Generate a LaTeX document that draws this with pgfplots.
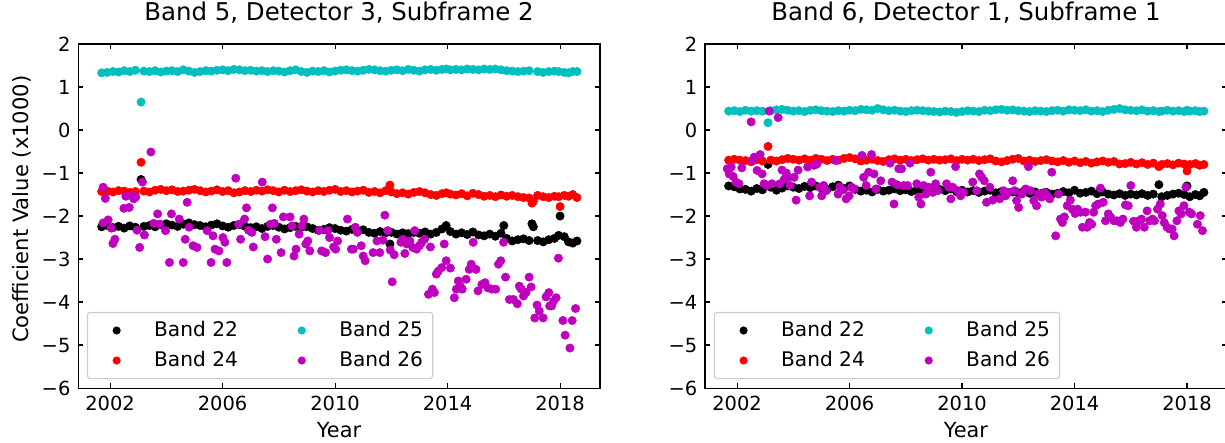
\documentclass[border=0pt]{standalone}
\usepackage{fontspec}
\setmainfont{DejaVu Sans}
\usepackage{pgfplots}
\usepackage{pgfplotstable}
\pgfplotsset{compat=1.18}
\definecolor{mplc}{rgb}{0,0.75,0.75}
\definecolor{mplm}{rgb}{0.75,0,0.75}
\definecolor{legframe}{rgb}{0.8,0.8,0.8}

\pgfplotstableread{
x a b c
2001.7 -2.25 -1.43 1.33
2001.9 -2.22 -1.42 1.34
2002.1 -2.27 -1.44 1.36
2002.3 -2.24 -1.41 1.35
2002.5 -2.28 -1.42 1.38
2002.7 -2.23 -1.45 1.36
2002.9 -2.26 -1.43 1.39
2003.1 -1.15 -0.75 0.65
2003.2 -2.24 -1.42 1.37
2003.4 -2.22 -1.44 1.36
2003.6 -2.25 -1.40 1.38
2003.8 -2.20 -1.38 1.35
2004.0 -2.18 -1.41 1.37
2004.2 -2.21 -1.39 1.38
2004.4 -2.24 -1.43 1.36
2004.6 -2.19 -1.42 1.40
2004.8 -2.16 -1.40 1.37
2005.0 -2.20 -1.38 1.34
2005.2 -2.22 -1.41 1.36
2005.4 -2.25 -1.44 1.38
2005.6 -2.21 -1.42 1.37
2005.8 -2.18 -1.39 1.39
2006.0 -2.23 -1.43 1.40
2006.2 -2.26 -1.41 1.38
2006.4 -2.22 -1.46 1.41
2006.6 -2.20 -1.44 1.40
2006.8 -2.24 -1.41 1.38
2007.0 -2.27 -1.43 1.39
2007.2 -2.25 -1.40 1.37
2007.4 -2.29 -1.42 1.38
2007.6 -2.24 -1.39 1.36
2007.8 -2.22 -1.41 1.38
2008.0 -2.26 -1.44 1.37
2008.2 -2.30 -1.40 1.35
2008.4 -2.27 -1.43 1.38
2008.6 -2.24 -1.41 1.40
2008.8 -2.26 -1.39 1.36
2009.0 -2.25 -1.42 1.34
2009.2 -2.29 -1.44 1.37
2009.4 -2.33 -1.41 1.36
2009.6 -2.31 -1.43 1.38
2009.8 -2.27 -1.40 1.35
2010.0 -2.29 -1.38 1.37
2010.2 -2.33 -1.43 1.39
2010.4 -2.35 -1.41 1.40
2010.6 -2.31 -1.44 1.38
2010.8 -2.34 -1.42 1.37
2011.0 -2.32 -1.40 1.39
2011.2 -2.38 -1.45 1.41
2011.4 -2.40 -1.43 1.40
2011.6 -2.36 -1.46 1.38
2011.8 -2.39 -1.41 1.37
2011.95 -2.65 -1.28 nan
2012.0 -2.38 -1.44 1.39
2012.2 -2.42 -1.48 1.40
2012.4 -2.39 -1.46 1.38
2012.6 -2.41 -1.49 1.41
2012.8 -2.38 -1.45 1.39
2013.0 -2.40 -1.43 1.37
2013.2 -2.37 -1.46 1.40
2013.4 -2.42 -1.50 1.41
2013.6 -2.38 -1.52 1.39
2013.8 -2.30 -1.48 1.41
2013.95 -2.22 -1.46 1.42
2014.1 -2.36 -1.49 1.40
2014.3 -2.42 -1.51 1.41
2014.5 -2.39 -1.48 1.40
2014.7 -2.43 -1.53 1.42
2014.9 -2.37 -1.47 1.41
2015.1 -2.44 -1.50 1.40
2015.3 -2.46 -1.54 1.42
2015.5 -2.42 -1.52 1.41
2015.7 -2.47 -1.55 1.42
2015.9 -2.40 -1.51 1.40
2016.0 -2.22 nan nan
2016.1 -2.52 -1.54 1.38
2016.3 -2.58 -1.52 1.37
2016.5 -2.55 -1.55 1.36
2016.7 -2.53 -1.57 1.37
2016.9 -2.57 -1.58 1.38
2017.0 -2.18 -1.70 nan
2017.05 -2.25 -1.66 nan
2017.2 -2.57 -1.52 1.36
2017.4 -2.60 -1.55 1.34
2017.6 -2.55 -1.57 1.36
2017.8 -2.52 -1.54 1.37
2017.95 -2.45 -1.55 1.36
2018.0 -2.00 -1.78 nan
2018.15 -2.48 -1.52 1.34
2018.3 -2.60 -1.54 1.33
2018.45 -2.63 -1.50 1.36
2018.6 -2.58 -1.57 1.36
}\leftdense

\pgfplotstableread{
x y
2001.75 -2.16
2001.75 -1.33
2001.83 -1.59
2001.93 -2.09
2002.04 -2.28
2002.10 -2.64
2002.17 -2.54
2002.49 -1.82
2002.56 -1.54
2002.68 -1.80
2002.77 -1.53
2002.84 -1.60
2002.91 -1.56
2002.96 -2.33
2003.05 -2.73
2003.15 -1.21
2003.22 -2.44
2003.45 -0.51
2003.55 -2.17
2003.69 -1.95
2003.76 -2.19
2003.97 -2.34
2004.11 -3.08
2004.18 -1.95
2004.46 -2.07
2004.60 -3.08
2004.67 -2.54
2004.74 -1.68
2004.81 -2.26
2004.95 -2.69
2005.09 -2.73
2005.45 -2.34
2005.59 -3.08
2005.66 -2.46
2005.73 -2.77
2005.87 -2.81
2006.01 -2.50
2006.08 -2.61
2006.15 -3.08
2006.47 -1.12
2006.57 -2.19
2006.64 -2.54
2006.78 -2.07
2006.85 -1.81
2006.92 -2.33
2007.04 -2.38
2007.09 -2.72
2007.41 -1.21
2007.51 -2.48
2007.60 -3.00
2007.70 -2.19
2007.77 -1.81
2007.84 -2.17
2007.91 -2.54
2008.08 -2.85
2008.16 -2.02
2008.40 -2.02
2008.47 -2.23
2008.54 -2.93
2008.61 -2.77
2008.72 -2.42
2008.82 -2.23
2008.89 -2.07
2008.96 -2.65
2009.03 -2.58
2009.10 -2.81
2009.45 -2.33
2009.52 -2.81
2009.66 -2.85
2009.74 -2.34
2009.80 -2.50
2009.95 -2.72
2010.02 -2.77
2010.09 -2.58
2010.44 -2.07
2010.58 -2.77
2010.65 -2.77
2010.72 -2.26
2010.79 -2.38
2010.93 -2.69
2011.00 -2.93
2011.07 -3.04
2011.35 -2.85
2011.49 -2.58
2011.59 -2.85
2011.70 -2.56
2011.77 -1.98
2011.87 -2.34
2011.96 -2.79
2012.03 -3.53
2012.10 -2.90
2012.34 -2.61
2012.41 -2.54
2012.48 -2.87
2012.55 -2.65
2012.66 -2.58
2012.76 -2.73
2012.83 -2.34
2012.90 -2.77
2013.00 -2.69
2013.08 -2.61
2013.18 -2.54
2013.32 -3.82
2013.39 -2.72
2013.46 -3.70
2013.53 -3.78
2013.60 -3.35
2013.67 -3.28
2013.79 -3.20
2013.88 -2.65
2013.95 -3.04
2014.10 -3.21
2014.24 -3.90
2014.31 -3.70
2014.38 -3.51
2014.45 -3.63
2014.52 -3.70
2014.66 -3.47
2014.77 -3.24
2014.84 -3.12
2014.91 -2.61
2015.01 -3.24
2015.08 -3.74
2015.22 -3.59
2015.33 -3.55
2015.43 -3.67
2015.57 -3.70
2015.71 -3.70
2015.81 -3.12
2015.89 -3.04
2015.99 -2.61
2016.06 -3.42
2016.20 -3.94
2016.34 -3.94
2016.48 -4.04
2016.55 -3.63
2016.62 -3.70
2016.70 -3.86
2016.79 -3.78
2016.90 -3.42
2016.97 -3.65
2017.10 -4.37
2017.18 -4.07
2017.26 -4.21
2017.40 -4.37
2017.50 -3.88
2017.60 -3.78
2017.63 -4.09
2017.70 -4.09
2017.77 -3.98
2017.86 -3.90
2017.94 -2.98
2018.10 -4.43
2018.18 -4.77
2018.35 -5.07
2018.43 -4.43
2018.55 -4.15
}\leftpurple

\pgfplotstableread{
x a b c
2001.7 -1.30 -0.70 0.44
2001.9 -1.32 -0.68 0.45
2002.1 -1.37 -0.70 0.43
2002.3 -1.38 -0.71 0.46
2002.5 -1.42 -0.74 0.44
2002.7 -1.36 -0.69 0.45
2002.9 -1.39 -0.72 0.44
2003.1 -0.80 -0.38 0.17
2003.2 -1.33 -0.70 0.45
2003.4 -1.40 -0.72 0.47
2003.6 -1.35 -0.69 0.48
2003.8 -1.30 -0.66 0.46
2004.0 -1.33 -0.68 0.44
2004.2 -1.36 -0.70 0.45
2004.4 -1.31 -0.67 0.43
2004.6 -1.34 -0.70 0.46
2004.8 -1.30 -0.66 0.47
2005.0 -1.35 -0.68 0.45
2005.2 -1.38 -0.71 0.44
2005.4 -1.32 -0.68 0.43
2005.6 -1.28 -0.70 0.45
2005.8 -1.36 -0.66 0.44
2006.0 -1.30 -0.64 0.46
2006.2 -1.38 -0.67 0.45
2006.4 -1.42 -0.72 0.48
2006.6 -1.40 -0.70 0.47
2006.8 -1.44 -0.68 0.46
2007.0 -1.38 -0.71 0.50
2007.2 -1.42 -0.73 0.47
2007.4 -1.40 -0.69 0.45
2007.6 -1.37 -0.67 0.46
2007.8 -1.41 -0.70 0.44
2008.0 -1.39 -0.68 0.43
2008.2 -1.43 -0.71 0.45
2008.4 -1.40 -0.69 0.46
2008.6 -1.38 -0.67 0.45
2008.8 -1.42 -0.70 0.44
2009.0 -1.40 -0.68 0.43
2009.2 -1.38 -0.70 0.42
2009.4 -1.41 -0.69 0.44
2009.6 -1.37 -0.67 0.43
2009.8 -1.43 -0.71 0.41
2010.0 -1.40 -0.68 0.43
2010.2 -1.44 -0.70 0.45
2010.4 -1.41 -0.68 0.44
2010.6 -1.45 -0.71 0.43
2010.8 -1.42 -0.69 0.46
2011.0 -1.40 -0.67 0.45
2011.2 -1.46 -0.72 0.47
2011.4 -1.43 -0.74 0.48
2011.6 -1.47 -0.71 0.46
2011.8 -1.44 -0.68 0.47
2012.0 -1.46 -0.66 0.45
2012.2 -1.42 -0.72 0.44
2012.4 -1.47 -0.70 0.43
2012.6 -1.44 -0.73 0.45
2012.8 -1.48 -0.71 0.44
2013.0 -1.45 -0.69 0.43
2013.2 -1.49 -0.72 0.45
2013.4 -1.47 -0.74 0.46
2013.6 -1.43 -0.71 0.44
2013.8 -1.46 -0.75 0.47
2014.0 -1.40 -0.72 0.46
2014.2 -1.47 -0.76 0.45
2014.4 -1.45 -0.73 0.47
2014.6 -1.42 -0.77 0.44
2014.8 -1.48 -0.74 0.45
2015.0 -1.44 -0.72 0.43
2015.2 -1.49 -0.75 0.46
2015.4 -1.51 -0.73 0.48
2015.6 -1.48 -0.79 0.50
2015.8 -1.52 -0.78 0.47
2016.0 -1.49 -0.75 0.46
2016.2 -1.51 -0.79 0.45
2016.4 -1.48 -0.76 0.47
2016.6 -1.52 -0.80 0.44
2016.8 -1.49 -0.77 0.45
2017.0 -1.27 -0.85 0.43
2017.1 -1.55 -0.80 0.44
2017.3 -1.52 -0.78 0.46
2017.5 -1.49 -0.81 0.44
2017.7 -1.47 -0.77 0.45
2017.9 -1.50 -0.79 0.43
2018.0 -1.30 -0.95 0.46
2018.1 -1.55 -0.80 0.44
2018.3 -1.50 -0.78 0.45
2018.45 -1.53 -0.82 0.43
2018.6 -1.45 -0.80 0.44
}\rightdense

\pgfplotstableread{
x y
2001.65 -0.90
2001.72 -1.02
2001.79 -0.86
2001.86 -1.08
2001.96 -1.21
2002.07 -1.25
2002.17 -0.88
2002.50 0.19
2002.54 -0.71
2002.61 -0.63
2002.71 -0.94
2002.82 -0.57
2002.89 -1.02
2002.96 -1.25
2003.06 -1.29
2003.14 0.44
2003.24 -1.25
2003.46 0.29
2003.52 -1.25
2003.60 -0.93
2003.68 -1.14
2003.75 -1.00
2003.80 -1.10
2003.89 -1.29
2004.03 -1.10
2004.10 -1.63
2004.17 -0.93
2004.51 -0.86
2004.58 -1.53
2004.65 -1.21
2004.74 -0.82
2004.84 -0.79
2004.94 -1.33
2005.01 -1.53
2005.08 -1.29
2005.17 -1.41
2005.51 -0.71
2005.59 -1.49
2005.66 -1.32
2005.76 -1.39
2005.88 -1.60
2005.98 -1.53
2006.07 -1.33
2006.16 -1.37
2006.44 -0.59
2006.50 -1.10
2006.59 -1.29
2006.68 -0.98
2006.78 -0.57
2006.87 -1.02
2006.94 -1.37
2007.11 -1.18
2007.44 -0.77
2007.51 -1.21
2007.58 -1.72
2007.68 -1.27
2007.75 -0.90
2007.85 -0.90
2007.92 -1.29
2008.06 -1.29
2008.15 -0.77
2008.39 -1.25
2008.46 -1.56
2008.54 -1.72
2008.63 -1.29
2008.71 -1.49
2008.81 -1.33
2008.89 -0.98
2008.96 -1.45
2009.06 -1.25
2009.14 -1.41
2009.45 -1.25
2009.53 -1.33
2009.60 -1.60
2009.67 -1.33
2009.77 -0.85
2009.85 -1.41
2009.95 -1.53
2010.05 -1.45
2010.38 -1.21
2010.52 -1.41
2010.62 -1.02
2010.70 -1.10
2010.79 -1.18
2010.87 -1.68
2010.99 -1.33
2011.09 -1.63
2011.34 -1.60
2011.47 -1.41
2011.55 -1.53
2011.65 -1.45
2011.80 -1.18
2011.87 -1.41
2011.94 -1.64
2012.01 -1.80
2012.12 -1.49
2012.26 -1.37
2012.36 -0.85
2012.43 -1.41
2012.55 -1.64
2012.65 -1.76
2012.72 -1.49
2012.83 -1.56
2012.93 -1.45
2013.03 -1.53
2013.12 -1.60
2013.19 -0.98
2013.33 -2.46
2013.43 -1.49
2013.50 -2.07
2013.57 -2.15
2013.64 -2.02
2013.74 -1.76
2013.85 -1.63
2013.92 -1.84
2014.02 -1.94
2014.11 -1.84
2014.21 -1.91
2014.28 -2.26
2014.39 -1.91
2014.45 -2.26
2014.53 -2.15
2014.61 -2.19
2014.68 -1.91
2014.75 -1.76
2014.84 -1.72
2014.92 -1.35
2015.02 -1.68
2015.10 -2.11
2015.20 -1.95
2015.29 -2.03
2015.40 -2.11
2015.51 -2.11
2015.63 -2.15
2015.72 -2.07
2015.81 -1.74
2015.91 -1.76
2016.00 -1.29
2016.10 -2.12
2016.20 -2.26
2016.29 -2.11
2016.38 -2.07
2016.48 -2.26
2016.58 -1.88
2016.67 -2.11
2016.77 -2.07
2016.84 -2.11
2016.95 -1.84
2017.05 -1.72
2017.12 -1.99
2017.19 -2.15
2017.29 -2.26
2017.37 -2.30
2017.47 -2.30
2017.54 -2.46
2017.64 -2.11
2017.71 -1.88
2017.79 -1.95
2017.89 -1.76
2017.96 -1.33
2018.08 -1.91
2018.16 -1.95
2018.37 -2.19
2018.47 -1.99
2018.55 -2.34
}\rightpurple

\pgfplotsset{
  legend image code/.code={%
    \path[draw=none,fill=none] (0pt,-4pt) rectangle (30pt,4pt);
    \draw[#1,mark size=2.5pt] plot coordinates {(14pt,0pt)};},
  coefpanel/.style={
    scale only axis, width=375.8pt, height=247.7pt,
    xmin=2000.86, xmax=2019.42, ymin=-6, ymax=2,
    xtick={2002,2006,2010,2014,2018},
    xticklabels={2002,2006,2010,2014,2018},
    ytick={-6,-5,-4,-3,-2,-1,0,1,2},
    yticklabels={−6,−5,−4,−3,−2,−1,0,1,2},
    tick align=inside, major tick length=3.5pt,
    every tick/.style={black, line width=0.8pt},
    axis line style={line width=0.8pt},
    ticklabel style={font=\fontsize{14}{16}\selectfont},
    xticklabel style={anchor=base, yshift=-16pt},
    yticklabel style={anchor=east, xshift=-2pt},
    title style={font=\fontsize{17.6}{20}\selectfont, at={(axis description cs:0.5,1)}, anchor=base, yshift=11pt},
    xlabel style={font=\fontsize{15}{17}\selectfont, at={(axis description cs:0.5,0)}, anchor=base, yshift=-35.5pt},
    legend columns=2, transpose legend, legend cell align=left,
    legend style={at={(axis description cs:0.017,0.026)}, anchor=south west,
      draw=legframe, line width=0.8pt, rounded corners=2pt, fill=white,
      font=\fontsize{14.5}{17}\selectfont, inner xsep=7pt, inner ysep=6pt,
      row sep=7.6pt,
      nodes={inner sep=0pt, text height=11pt, text depth=3pt},
      /tikz/every odd column/.append style={column sep=11pt},
      /tikz/every even column/.append style={column sep=32pt}},
  },
  dots/.style={only marks, mark=*, mark size=3pt, color=#1},
}

\begin{document}
\begin{tikzpicture}
\useasboundingbox (-56.2pt,-38.9pt) rectangle (825.8pt,279.4pt);
\begin{axis}[coefpanel, at={(0pt,0pt)}, anchor=south west,
  title={Band 5, Detector 3, Subframe 2}, xlabel={Year},
  ylabel={Coefficient Value (x1000)},
  ylabel style={font=\fontsize{15.2}{17}\selectfont, at={(axis description cs:-0.108,0.52)}, anchor=center, rotate=0}]
\addplot[dots=black] table[x=x,y=a] {\leftdense};
\addplot[dots=red] table[x=x,y=b] {\leftdense};
\addplot[dots=mplc] table[x=x,y=c] {\leftdense};
\addplot[dots=mplm] table[x=x,y=y] {\leftpurple};
\legend{Band 22, Band 24, Band 25, Band 26}
\end{axis}
\begin{axis}[coefpanel, at={(451.4pt,0pt)}, anchor=south west,
  title={Band 6, Detector 1, Subframe 1}, xlabel={Year}]
\addplot[dots=black] table[x=x,y=a] {\rightdense};
\addplot[dots=red] table[x=x,y=b] {\rightdense};
\addplot[dots=mplc] table[x=x,y=c] {\rightdense};
\addplot[dots=mplm] table[x=x,y=y] {\rightpurple};
\legend{Band 22, Band 24, Band 25, Band 26}
\end{axis}
\end{tikzpicture}
\end{document}
